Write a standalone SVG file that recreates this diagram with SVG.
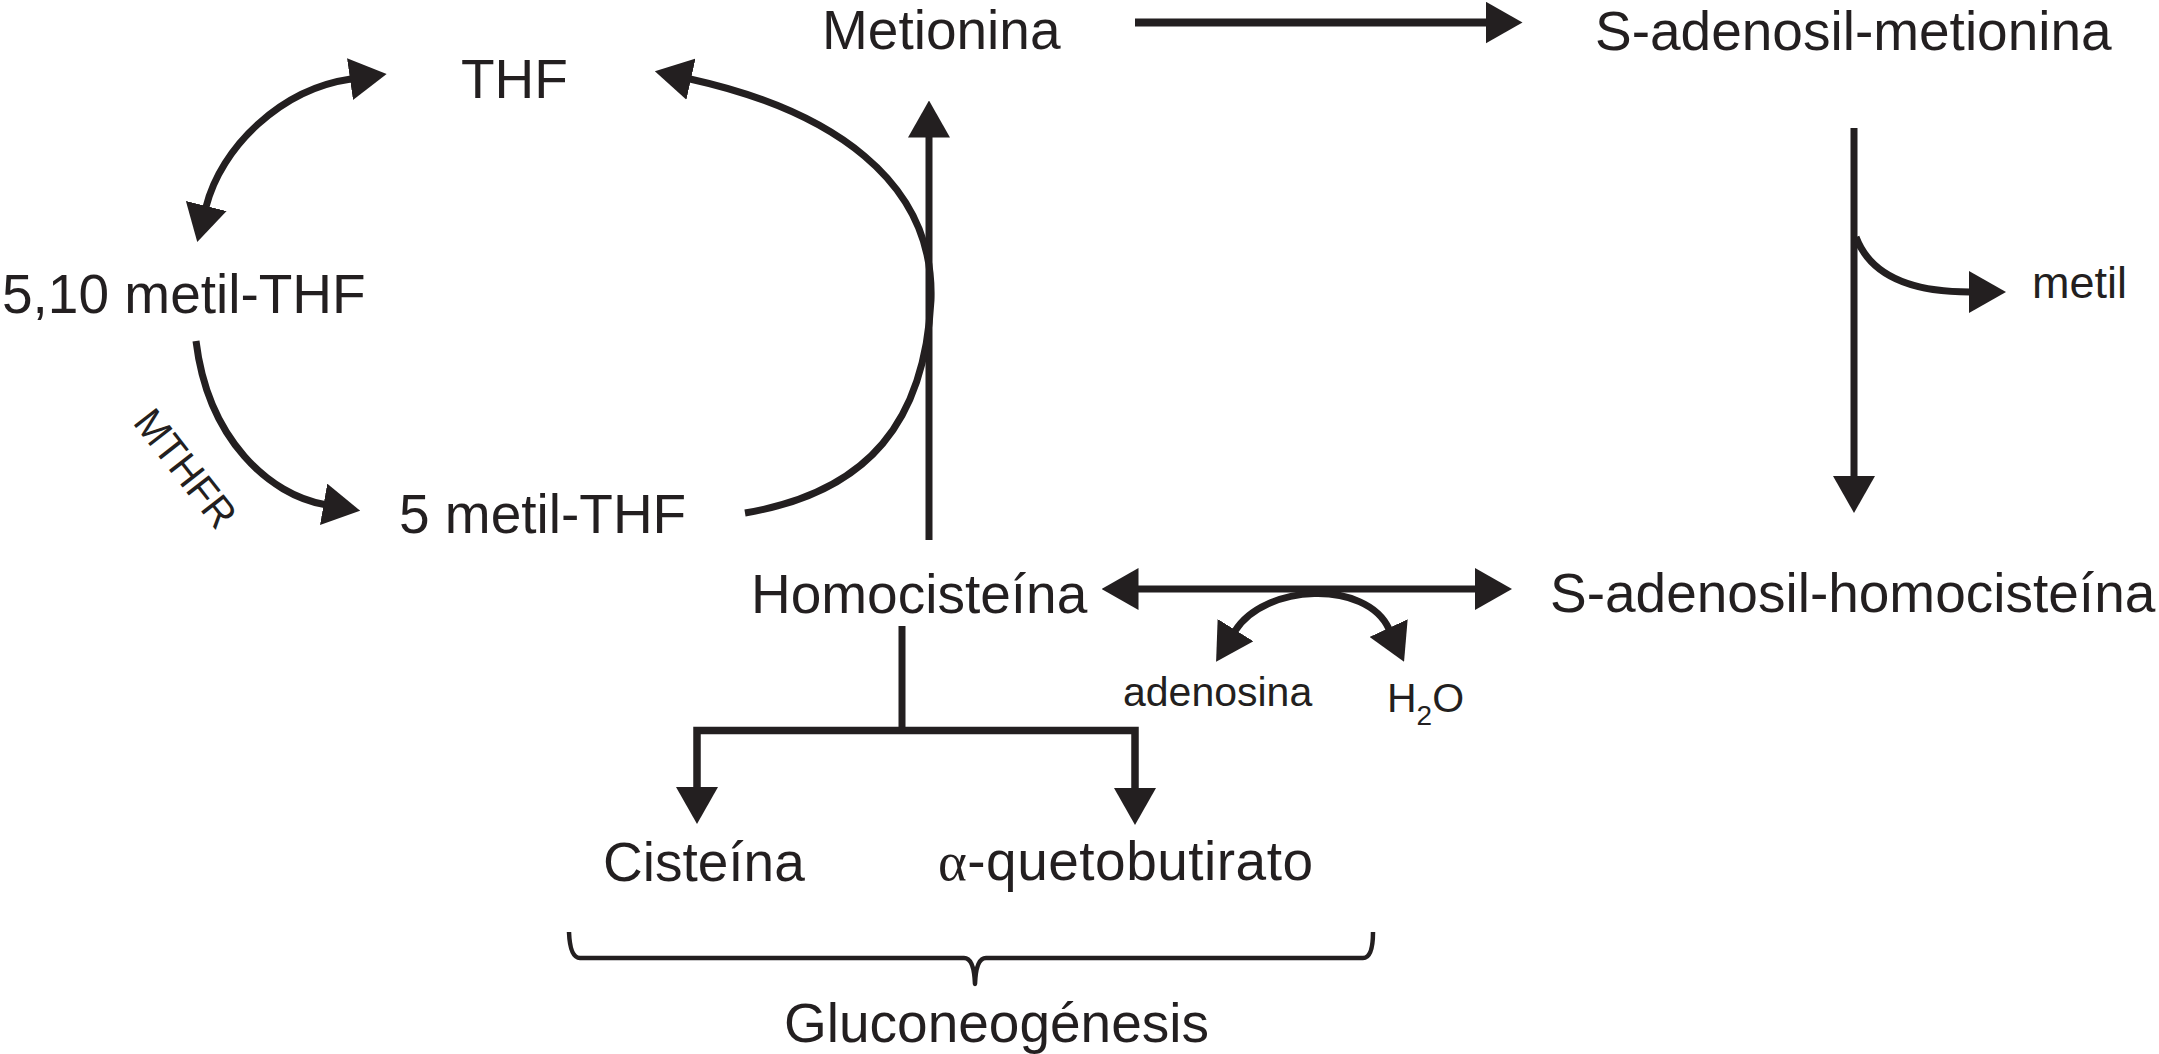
<svg xmlns="http://www.w3.org/2000/svg" width="2159" height="1054" viewBox="0 0 2159 1054">
<style>
.t{font-family:"Liberation Sans",Arial,sans-serif;fill:#231f20;font-size:55px}
.s{font-family:"Liberation Sans",Arial,sans-serif;fill:#231f20;font-size:41px}
.ln{fill:none;stroke:#231f20;stroke-width:7;stroke-linejoin:miter}
.br{fill:none;stroke:#231f20;stroke-width:4.5;stroke-linejoin:round}
</style>
<defs>
<marker id="ah" markerUnits="userSpaceOnUse" markerWidth="37" markerHeight="42" viewBox="0 0 37 42" refX="1" refY="21" orient="auto-start-reverse">
<path d="M0,0 L37,21 L0,42 Z" fill="#231f20"/>
</marker>
</defs>
<rect width="2159" height="1054" fill="#ffffff"/>
<g id="connectors">
<path class="ln" style="stroke-width:8" d="M1135,22.5 H1486.5" marker-end="url(#ah)"/>
<path class="ln" d="M929,540 V136.5" marker-end="url(#ah)"/>
<path class="ln" d="M351,79 C281,89 221,147 206,207" marker-start="url(#ah)" marker-end="url(#ah)"/>
<path class="ln" d="M196,341 C208,440 270,495 324.6,504.5" marker-end="url(#ah)"/>
<path class="ln" d="M745,513 C870,492 925,420 931,300 C935,180 830,110 690,79" marker-end="url(#ah)"/>
<path class="ln" d="M1854,128 V477" marker-end="url(#ah)"/>
<path class="ln" d="M1856,237 C1870,275 1910,292 1970,292" marker-end="url(#ah)"/>
<path class="ln" d="M1137.5,589 H1476" marker-start="url(#ah)" marker-end="url(#ah)"/>
<path class="ln" d="M1235,631 C1264,584 1366,579 1389,629" marker-start="url(#ah)" marker-end="url(#ah)"/>
<path class="ln" d="M902,626 V730"/>
<path class="ln" style="stroke-width:7.5" d="M697,788 V730.5 H1135 V789" marker-start="url(#ah)" marker-end="url(#ah)"/>
<path class="br" d="M569,932 Q570,958 580,958 H964 Q974,958 975,984 Q976,958 986,958 H1363 Q1373,958 1373,932"/>
</g>
<g id="n-thf"><text class="t" x="461" y="98">THF</text></g>
<g id="n-metionina"><text class="t" x="822" y="49">Metionina</text></g>
<g id="n-sam"><text class="t" x="1595" y="50">S-adenosil-metionina</text></g>
<g id="n-510"><text class="t" x="2" y="313">5,10 metil-THF</text></g>
<g id="n-mthfr"><text class="t" style="font-size:41px" text-anchor="middle" x="0" y="14.7" textLength="138" lengthAdjust="spacingAndGlyphs" transform="translate(186,468) rotate(52)">MTHFR</text></g>
<g id="n-5metil"><text class="t" x="399" y="533">5 metil-THF</text></g>
<g id="n-metil"><text class="t" style="font-size:45px" x="2032" y="298">metil</text></g>
<g id="n-homo"><text class="t" x="751" y="613">Homocisteína</text></g>
<g id="n-sah"><text class="t" x="1550" y="612">S-adenosil-homocisteína</text></g>
<g id="n-adenosina"><text class="s" x="1123" y="706">adenosina</text></g>
<g id="n-h2o"><text class="s" x="1387" y="712">H<tspan style="font-size:28px" dy="13">2</tspan><tspan dy="-13">O</tspan></text></g>
<g id="n-cisteina"><text class="t" x="603" y="881">Cisteína</text></g>
<g id="n-aqueto"><text class="t" x="938" y="880" textLength="375" lengthAdjust="spacing"><tspan style="font-family:'Liberation Serif','Times New Roman',serif">α</tspan>-quetobutirato</text></g>
<g id="n-gluco"><text class="t" x="784" y="1042">Gluconeogénesis</text></g>
</svg>
